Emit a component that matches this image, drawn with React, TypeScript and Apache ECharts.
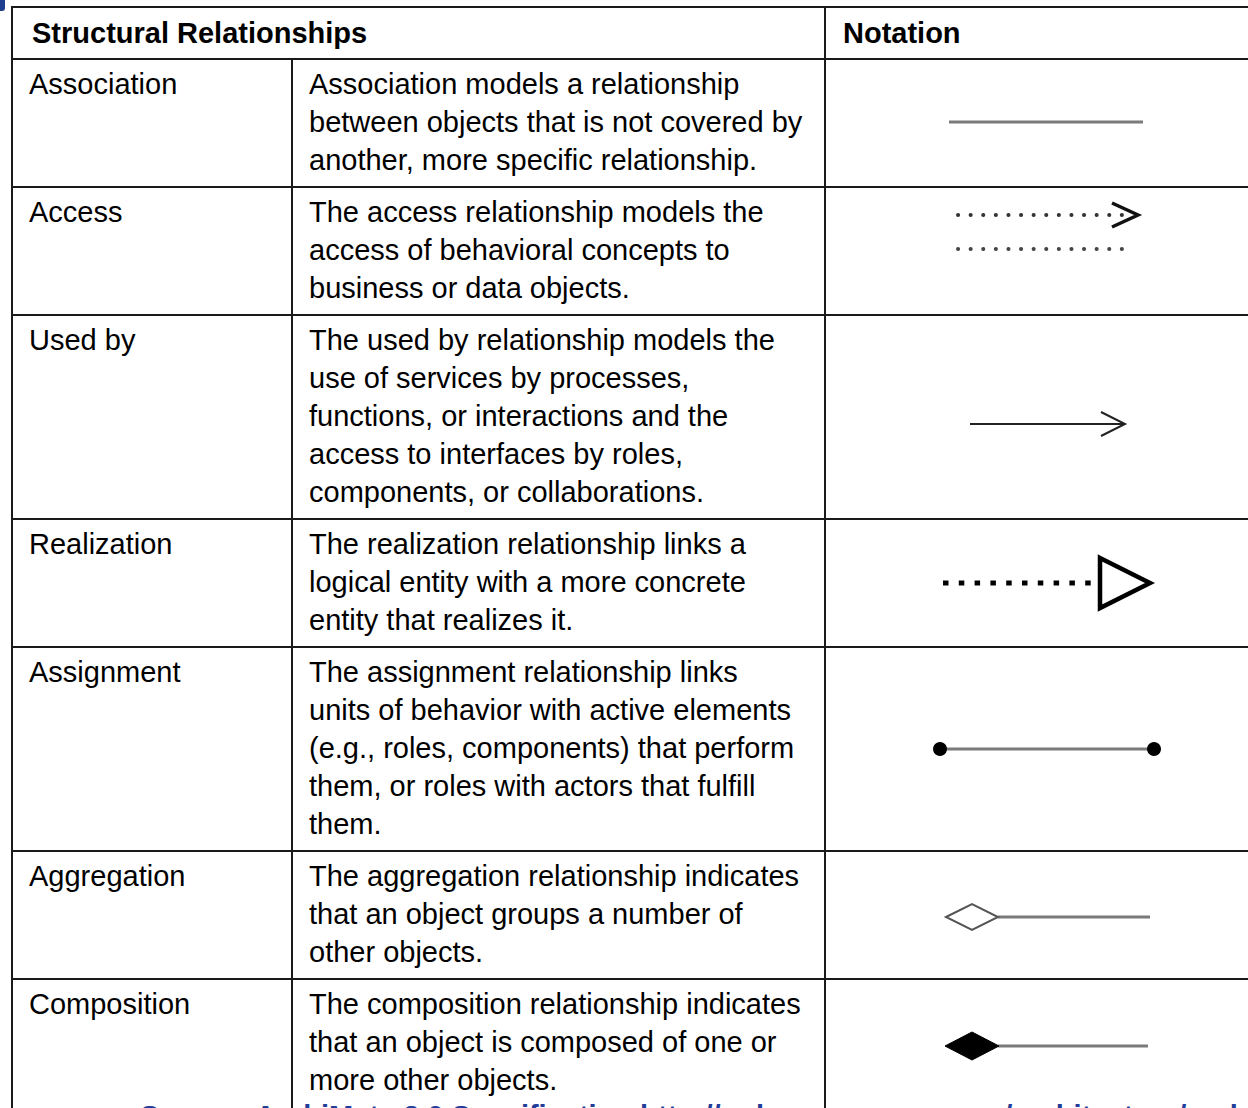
import React, { useEffect, useRef } from "react";
import * as echarts from "echarts";

const headerLabels = ["Structural Relationships", "Notation"];

const relationshipNames = [
  "Association",
  "Access",
  "Used by",
  "Realization",
  "Assignment",
  "Aggregation",
  "Composition",
];

const relationshipDescriptions = [
  [
    "Association models a relationship",
    "between objects that is not covered by",
    "another, more specific relationship.",
  ],
  [
    "The access relationship models the",
    "access of behavioral concepts to",
    "business or data objects.",
  ],
  [
    "The used by relationship models the",
    "use of services by processes,",
    "functions, or interactions and the",
    "access to interfaces by roles,",
    "components, or collaborations.",
  ],
  [
    "The realization relationship links a",
    "logical entity with a more concrete",
    "entity that realizes it.",
  ],
  [
    "The assignment relationship links",
    "units of behavior with active elements",
    "(e.g., roles, components) that perform",
    "them, or roles with actors that fulfill",
    "them.",
  ],
  [
    "The aggregation relationship indicates",
    "that an object groups a number of",
    "other objects.",
  ],
  [
    "The composition relationship indicates",
    "that an object is composed of one or",
    "more other objects.",
  ],
];

const notationKinds = [
  "association",
  "access",
  "usedBy",
  "realization",
  "assignment",
  "aggregation",
  "composition",
];

const sourceNote =
  "Source: ArchiMate 2.0 Specification http://pubs.opengroup.org/architecture/archimate2-doc/";

const W = 1248;
const H = 1108;
const FONT = '"Liberation Sans", Arial, sans-serif';
const GRID = "#1a1a1a";

function notation(kind: string, top: number): any[] {
  const els: any[] = [];
  const gray = "#7a7a7a";
  if (kind === "association") {
    const y = top + 63;
    els.push({ type: "line", shape: { x1: 949, y1: y, x2: 1143, y2: y }, style: { stroke: gray, lineWidth: 3 } });
  } else if (kind === "access") {
    const y1 = top + 28;
    const y2 = top + 62;
    els.push({
      type: "line",
      shape: { x1: 958, y1: y1, x2: 1124, y2: y1 },
      style: { stroke: "#333", lineWidth: 4, lineDash: [0.1, 12.5], lineCap: "round" },
    });
    els.push({
      type: "polyline",
      shape: { points: [[1112, y1 - 12], [1138, y1], [1112, y1 + 12]] },
      style: { stroke: "#111", lineWidth: 3.5, fill: null },
    });
    els.push({
      type: "line",
      shape: { x1: 958, y1: y2, x2: 1134, y2: y2 },
      style: { stroke: "#444", lineWidth: 4, lineDash: [0.1, 12.5], lineCap: "round" },
    });
  } else if (kind === "usedBy") {
    const y = top + 109;
    els.push({ type: "line", shape: { x1: 970, y1: y, x2: 1125, y2: y }, style: { stroke: "#222", lineWidth: 2 } });
    els.push({
      type: "polyline",
      shape: { points: [[1101, y - 12], [1125, y], [1101, y + 12]] },
      style: { stroke: "#222", lineWidth: 2, fill: null },
    });
  } else if (kind === "realization") {
    const y = top + 64;
    els.push({
      type: "line",
      shape: { x1: 943, y1: y, x2: 1094, y2: y },
      style: { stroke: "#000", lineWidth: 5, lineDash: [5.5, 10.3] },
    });
    els.push({
      type: "polygon",
      shape: { points: [[1100, y - 25], [1150, y], [1100, y + 25]] },
      style: { stroke: "#000", lineWidth: 4.5, fill: "#fff", lineJoin: "miter" },
    });
  } else if (kind === "assignment") {
    const y = top + 102;
    els.push({ type: "line", shape: { x1: 940, y1: y, x2: 1154, y2: y }, style: { stroke: gray, lineWidth: 3 } });
    els.push({ type: "circle", shape: { cx: 940, cy: y, r: 7 }, style: { fill: "#000" } });
    els.push({ type: "circle", shape: { cx: 1154, cy: y, r: 7 }, style: { fill: "#000" } });
  } else if (kind === "aggregation") {
    const y = top + 66;
    els.push({ type: "line", shape: { x1: 998, y1: y, x2: 1150, y2: y }, style: { stroke: gray, lineWidth: 3 } });
    els.push({
      type: "polygon",
      shape: { points: [[946, y], [972, y - 13], [998, y], [972, y + 13]] },
      style: { stroke: "#555", lineWidth: 2, fill: "#fff" },
    });
  } else if (kind === "composition") {
    const y = top + 67;
    els.push({ type: "line", shape: { x1: 998, y1: y, x2: 1148, y2: y }, style: { stroke: gray, lineWidth: 3 } });
    els.push({
      type: "polygon",
      shape: { points: [[945, y], [972, y - 14], [999, y], [972, y + 14]] },
      style: { stroke: "#000", lineWidth: 1, fill: "#000" },
    });
  }
  return els;
}

function buildElements(): any[] {
  const els: any[] = [];
  const tableTop = 7;
  const headerBottom = 59;
  const lineH = 38;
  const pad = 14;
  const textStyle = (text: string, bold = false, size = 29, fill = "#000") => ({
    text,
    fontSize: size,
    fontFamily: FONT,
    fontWeight: bold ? "bold" : "normal",
    fill,
    align: "left",
    verticalAlign: "middle",
  });

  els.push({ type: "rect", shape: { x: 0, y: 0, width: W, height: H }, style: { fill: "#fff" }, z: -10 });

  // header
  els.push({ type: "text", x: 32, y: 33, style: textStyle(headerLabels[0], true) });
  els.push({ type: "text", x: 843, y: 33, style: textStyle(headerLabels[1], true) });

  const hLines: number[] = [tableTop, headerBottom];
  let top = headerBottom;
  relationshipNames.forEach((name, i) => {
    const lines = relationshipDescriptions[i];
    els.push({ type: "text", x: 29, y: top + 25, style: textStyle(name) });
    lines.forEach((ln, j) => {
      els.push({ type: "text", x: 309, y: top + 25 + j * lineH, style: textStyle(ln) });
    });
    els.push(...notation(notationKinds[i], top));
    top += lines.length * lineH + pad;
    if (i < relationshipNames.length - 1) hLines.push(top);
  });

  hLines.forEach((y) => {
    els.push({ type: "line", shape: { x1: 12, y1: y, x2: W, y2: y }, style: { stroke: GRID, lineWidth: 2 } });
  });
  els.push({ type: "line", shape: { x1: 12, y1: tableTop - 1, x2: 12, y2: H }, style: { stroke: GRID, lineWidth: 2 } });
  els.push({ type: "line", shape: { x1: 825, y1: tableTop - 1, x2: 825, y2: H }, style: { stroke: GRID, lineWidth: 2 } });
  els.push({ type: "line", shape: { x1: 292, y1: headerBottom, x2: 292, y2: H }, style: { stroke: GRID, lineWidth: 2 } });

  // corner mark
  els.push({ type: "rect", shape: { x: -4, y: -4, width: 9, height: 15, r: 3 }, style: { fill: "#1f3d8f" } });

  // source note (cut off at bottom, as in the reference)
  els.push({ type: "text", x: 140, y: 1116, style: textStyle(sourceNote, true, 29, "#1f3d99") });

  return els;
}

export default function App() {
  const ref = useRef<HTMLDivElement>(null);
  useEffect(() => {
    if (!ref.current) return;
    const chart = echarts.init(ref.current, null, { renderer: "svg" });
    chart.setOption({
      animation: false,
      backgroundColor: "#fff",
      graphic: { elements: buildElements() },
    });
    return () => chart.dispose();
  }, []);
  return (
    <div style={{ position: "absolute", left: 0, top: 0, width: W, height: H, overflow: "hidden", background: "#fff" }}>
      <div ref={ref} style={{ width: W, height: H }} />
    </div>
  );
}
